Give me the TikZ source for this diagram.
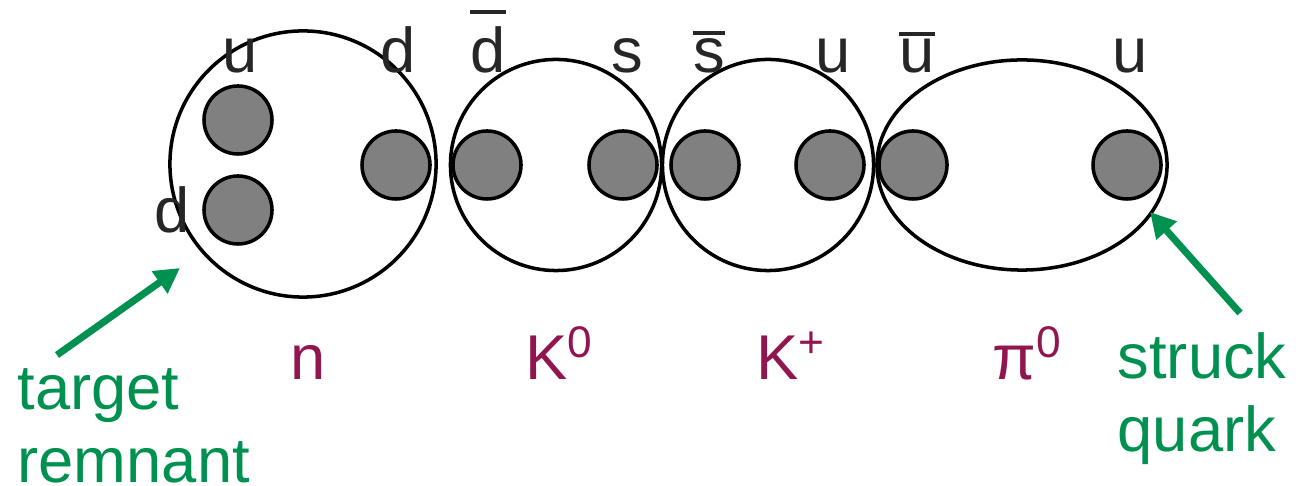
\documentclass[tikz,border=0pt]{standalone}
\usepackage{fontspec}
\setmainfont{Liberation Sans}
\usepackage{tikz}
\usetikzlibrary{arrows.meta, shapes.geometric}
\definecolor{remgreen}{RGB}{0,145,80}
\definecolor{hadred}{RGB}{145,22,80}
\newcommand{\qbar}[2]{\setbox0\hbox{#1}\rlap{\raisebox{\dimexpr\ht0+#2\relax}{\rule{\wd0}{0.04cm}}}\box0}

\begin{document}
\begin{tikzpicture}[
	x=0.01cm, y=-0.01cm,
	hadron/.style={
		circle,
		draw=black,
		line width=1pt,
		inner sep=0pt
	},
	quark/.style={
		circle,
		draw=black,
		line width=1pt,
		fill=black!50,
		minimum size=0.68cm,
		inner sep=0pt
	},
	flavour/.style={font=\fontsize{18}{21}\selectfont, text=black!85, inner sep=0pt, anchor=base},
	particle/.style={font=\fontsize{18}{21}\selectfont, text=hadred, inner sep=0pt, anchor=base},
	note/.style={font=\fontsize{18}{21}\selectfont, text=remgreen, inner sep=0pt, align=left, anchor=base west},
	pointer/.style={draw=remgreen, line width=2pt, -{Triangle[length=0.25cm, width=0.26cm]}}
	]
	
	\useasboundingbox (0,0) rectangle (1301,486);
	
	% Hadrons
	\node[hadron, minimum size=2.66cm] (neutron) at (303,164) {};
	\node[hadron, minimum size=2.11cm] (kzero) at (556,165) {};
	\node[hadron, minimum size=2.11cm] (kplus) at (768,165) {};
	\node[hadron, ellipse, minimum width=2.90cm, minimum height=2.10cm] (pizero) at (1022,165) {};
	
	% Quarks
	\node[quark] (nu) at (238,120) {};
	\node[quark] (nd) at (238,210) {};
	\node[quark] (nd2) at (396,165) {};
	\node[quark] (kzd) at (487,165) {};
	\node[quark] (kzs) at (623,165) {};
	\node[quark] (kps) at (705,165) {};
	\node[quark] (kpu) at (830,165) {};
	\node[quark] (piu) at (913,165) {};
	\node[quark] (piu2) at (1127,165) {};
	
	% Flavours
	\node[flavour] (lnu) at (240,73) {u};
	\node[flavour] (lnd) at (172,233) {d};
	\node[flavour] (lnd2) at (398,73) {d};
	\node[flavour] (lkzd) at (488,73) {\qbar{d}{0.13cm}};
	\node[flavour] (lkzs) at (627,73) {s};
	\node[flavour] (lkps) at (709,73) {\qbar{s}{0.04cm}};
	\node[flavour] (lkpu) at (833,73) {u};
	\node[flavour] (lpiu) at (917,73) {\qbar{u}{0.04cm}};
	\node[flavour] (lpiu2) at (1130,73) {u};
	
	% Names
	\node[particle] (ln) at (308,380) {n};
	\node[particle] (lkz) at (560,380) {K\textsuperscript{0}};
	\node[particle] (lkp) at (791,380) {K\textsuperscript{+}};
	\node[particle] (lpi) at (1028,380) {π\textsuperscript{0}};
	
	% Pointers
	\node[note] (remnant) at (17,483) {target\\remnant};
	\node[note] (struck) at (1117,452) {struck\\quark};
	\coordinate (remtail) at (57,355);
	\coordinate (remtip) at (180,268);
	\coordinate (strtail) at (1240,313);
	\coordinate (strtip) at (1150,212);
	\draw[pointer] (remtail) -- (remtip);
	\draw[pointer] (strtail) -- (strtip);
	
\end{tikzpicture}
\end{document}
